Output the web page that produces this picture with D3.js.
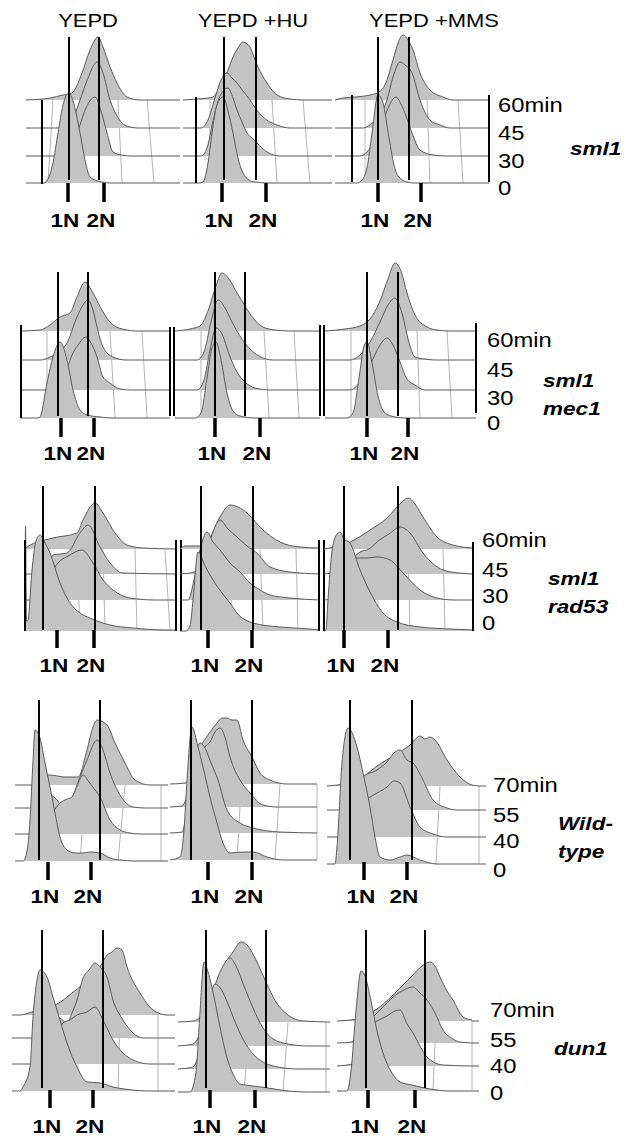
<!DOCTYPE html>
<html>
<head>
<meta charset="utf-8">
<script src="https://cdn.jsdelivr.net/npm/d3@7"></script>
<style>
  body { margin: 0; background: #fff; }
  text { font-family: Arial, "Liberation Sans", sans-serif; fill: #000; }
</style>
</head>
<body>
<svg id="fig" width="627" height="1143"></svg>
<script>
// Column and row labels.
const conditions = ["YEPD", "YEPD +HU", "YEPD +MMS"];
const strains = [["sml1"], ["sml1", "mec1"], ["sml1", "rad53"], ["Wild-", "type"], ["dun1"]];
const timesShort = ["0", "30", "45", "60min"];
const timesLong = ["0", "40", "55", "70min"];
const rowTimes = [timesShort, timesShort, timesShort, timesLong, timesLong];
const ploidyLabels = ["1N", "2N"];

// Histograms: [channel, cell count] pairs, front (time 0) to back (latest time).
const sml1_YEPD = [
    [[0,0],[18,0],[22,4],[27,20],[32,50],[37,78],[43,90],[47,82],[54,50],[59,23],[64,6],[72,2],[85,0],[154,0]],
    [[0,0],[40,0],[46,5],[53,28],[60,48],[69,59],[75,45],[81,23],[87,4],[95,1],[105,0],[154,0]],
    [[0,0],[30,0],[42,4],[48,12],[54,28],[62,50],[71,66],[77,55],[84,28],[90,14],[96,5],[104,1],[112,0],[154,0]],
    [[0,0],[24,2],[37,5],[46,7],[56,27],[64,50],[72,63],[77,53],[84,33],[91,17],[101,3],[114,0],[154,0]]
];
const sml1_HU = [
    [[0,0],[16,0],[20,1],[25,20],[29,50],[34,78],[40,86],[45,72],[50,50],[55,25],[60,10],[66,3],[72,1],[85,0],[149,0]],
    [[0,0],[18,0],[24,8],[30,35],[37,60],[45,68],[50,58],[54,46],[59,34],[64,23],[69,18],[74,13],[84,4],[97,0],[149,0]],
    [[0,0],[18,0],[25,8],[32,30],[38,48],[44,55],[49,50],[54,45],[60,37],[67,28],[73,19],[80,11],[87,6],[94,3],[107,0],[149,0]],
    [[0,0],[15,1],[25,2],[30,3],[35,9],[40,18],[45,30],[50,43],[55,52],[60,58],[64,56],[67,53],[71,43],[75,33],[84,17],[94,5],[107,1],[120,0],[149,0]]
];
const sml1_MMS = [
    [[0,0],[22,0],[27,3],[32,15],[37,50],[43,88],[48,80],[54,45],[60,14],[66,4],[72,1],[80,0],[154,0]],
    [[0,0],[25,0],[32,4],[38,12],[44,25],[50,40],[56,54],[61,59],[66,52],[71,40],[77,23],[85,6],[98,1],[110,0],[154,0]],
    [[0,0],[28,0],[36,4],[44,12],[52,28],[58,51],[65,66],[70,63],[77,55],[85,28],[95,8],[105,3],[115,0],[154,0]],
    [[0,0],[8,2],[20,3],[35,5],[44,8],[50,15],[58,40],[63,57],[68,65],[73,60],[78,50],[85,27],[95,10],[108,3],[118,0],[154,0]]
];
const mec1_YEPD = [
    [[0,0],[17,0],[19,1],[26,35],[32,61],[39,76],[46,58],[52,28],[59,8],[66,3],[79,1],[90,0],[149,0]],
    [[0,0],[35,0],[42,5],[49,30],[57,45],[65,53],[70,47],[76,33],[82,13],[89,7],[99,1],[110,0],[149,0]],
    [[0,0],[20,0],[29,3],[38,8],[46,17],[56,43],[62,55],[67,60],[72,50],[76,33],[82,13],[92,3],[105,0],[149,0]],
    [[0,0],[19,1],[29,6],[39,14],[49,18],[56,34],[64,49],[72,38],[82,19],[92,6],[106,1],[115,0],[149,0]]
];
const mec1_HU = [
    [[0,0],[20,0],[26,5],[32,40],[37,70],[41,76],[46,58],[52,25],[58,7],[65,2],[80,0],[145,0]],
    [[0,0],[22,0],[29,10],[35,40],[41,62],[47,56],[54,36],[62,18],[70,8],[80,2],[95,0],[145,0]],
    [[0,0],[22,0],[29,8],[36,38],[43,60],[50,52],[57,38],[65,24],[74,12],[84,4],[98,0],[145,0]],
    [[0,0],[15,2],[25,5],[33,20],[40,42],[47,58],[54,52],[62,38],[70,25],[78,13],[88,4],[100,1],[115,0],[145,0]]
];
const mec1_MMS = [
    [[0,0],[22,0],[28,5],[34,40],[39,72],[42,76],[47,55],[53,22],[59,6],[66,2],[80,0],[151,0]],
    [[0,0],[25,0],[35,8],[45,25],[55,45],[62,52],[68,45],[75,28],[82,11],[90,5],[100,0],[151,0]],
    [[0,0],[25,0],[35,5],[45,18],[55,38],[63,55],[70,62],[76,50],[85,14],[90,3],[100,1],[110,0],[151,0]],
    [[0,0],[20,2],[35,5],[45,12],[55,30],[63,52],[70,68],[76,60],[82,38],[90,16],[102,4],[112,1],[125,0],[151,0]]
];
const rad53_YEPD = [
    [[0,0],[0.5,105],[1.5,10],[3,11],[7,61],[11,90],[15,96],[20,88],[25,78],[35,48],[45,28],[55,18],[65,13],[85,6],[108,3],[142,1],[151,1]],
    [[0,0],[20,0],[25,15],[30,33],[45,45],[57,50],[68,37],[78,20],[88,10],[105,2],[130,0],[151,0]],
    [[0,0],[20,0],[28,19],[42,21],[55,41],[63,49],[75,27],[85,11],[98,1],[151,0]],
    [[0,0],[2,2],[28,11],[52,16],[58,29],[70,46],[78,36],[90,16],[102,4],[118,1],[151,0]]
];
const rad53_HU = [
    [[0,0],[6,0],[10,5],[13,31],[18,79],[25,65],[33,51],[42,38],[50,28],[57,18],[73,8],[100,4],[130,2],[139,1]],
    [[0,0],[8,0],[14,20],[20,50],[27,68],[33,58],[40,50],[50,37],[60,28],[70,17],[80,10],[90,5],[110,2],[139,0]],
    [[0,0],[15,2],[22,12],[30,34],[40,54],[48,45],[57,37],[67,28],[77,21],[90,7],[110,2],[139,0]],
    [[0,0],[5,3],[25,3],[30,11],[40,32],[50,44],[58,42],[67,36],[83,19],[100,7],[120,2],[139,1]]
];
const rad53_MMS = [
    [[0,0],[2,1],[4,31],[8,80],[13,97],[16,99],[20,92],[26,88],[36,61],[46,39],[59,18],[73,9],[96,4],[126,2],[149,1]],
    [[0,0],[10,2],[20,25],[33,42],[43,42],[53,43],[66,40],[79,27],[96,10],[113,2],[130,0],[149,0]],
    [[0,0],[15,3],[25,12],[36,22],[45,25],[53,32],[65,40],[76,47],[86,41],[99,21],[119,4],[135,1],[149,0]],
    [[0,0],[10,2],[26,7],[46,19],[63,31],[76,45],[84,51],[91,45],[99,32],[113,12],[129,4],[149,1]]
];
const wt_YEPD = [
    [[0,0],[8,0],[12,10],[15,41],[18,100],[20,131],[25,123],[30,98],[35,74],[40,48],[45,24],[52,11],[60,8],[68,8],[75,9],[85,8],[95,3],[105,1],[120,0],[153,0]],
    [[0,0],[22,0],[30,10],[38,22],[45,31],[52,35],[57,37],[62,48],[68,59],[74,52],[80,44],[85,37],[95,14],[105,4],[115,1],[125,0],[153,0]],
    [[0,0],[22,0],[28,8],[35,13],[42,8],[48,1],[53,4],[57,10],[65,31],[72,48],[82,68],[88,58],[95,35],[105,13],[118,1],[130,0],[153,0]],
    [[0,0],[20,0],[28,8],[35,10],[50,8],[63,8],[72,35],[78,58],[82,65],[92,60],[100,42],[110,22],[120,5],[135,0],[153,0]]
];
const wt_HU = [
    [[0,0],[10,3],[14,30],[17,80],[22,133],[28,113],[33,93],[40,63],[47,37],[53,17],[60,7],[73,8],[83,8],[97,3],[113,0],[147,0]],
    [[0,0],[12,1],[18,30],[24,70],[30,90],[35,85],[41,70],[48,53],[57,23],[70,10],[83,5],[110,1],[147,0]],
    [[0,0],[12,1],[20,20],[28,45],[35,60],[40,65],[45,75],[50,79],[55,70],[60,50],[70,27],[80,14],[93,2],[107,0],[147,0]],
    [[0,0],[15,1],[22,10],[30,35],[40,52],[47,61],[52,66],[57,66],[62,64],[67,64],[73,44],[82,27],[90,11],[100,4],[117,0],[147,0]]
];
const wt_MMS = [
    [[0,0],[8,0],[10,17],[15,101],[21,136],[30,117],[36,91],[43,57],[48,27],[53,7],[63,4],[73,7],[80,9],[93,4],[110,0],[152,0]],
    [[0,0],[15,0],[22,15],[30,30],[40,38],[50,44],[60,50],[67,56],[73,54],[83,30],[93,10],[106,3],[120,0],[152,0]],
    [[0,0],[15,0],[22,15],[30,25],[36,33],[50,40],[60,48],[68,58],[73,60],[80,50],[86,47],[96,30],[106,10],[120,2],[130,0],[152,0]],
    [[0,0],[30,5],[36,9],[50,20],[68,31],[83,41],[93,50],[98,47],[103,49],[108,46],[120,26],[133,9],[145,1],[152,0]]
];
const dun1_YEPD = [
    [[0,0],[8,0],[11,4],[18,24],[21,74],[25,111],[28,121],[35,114],[41,94],[48,71],[55,48],[65,24],[75,9],[88,8],[101,4],[121,1],[135,0],[163,0]],
    [[0,0],[25,0],[35,25],[42,35],[48,37],[51,41],[58,44],[65,49],[75,52],[83,57],[91,44],[101,24],[111,11],[121,4],[138,0],[163,0]],
    [[0,0],[25,0],[35,15],[42,22],[48,20],[55,15],[60,25],[65,38],[71,60],[77,68],[83,75],[89,70],[95,61],[101,38],[111,18],[121,5],[131,0],[163,0]],
    [[0,0],[8,0],[20,3],[35,8],[45,11],[60,22],[70,30],[78,38],[88,48],[95,60],[100,63],[105,67],[110,65],[115,48],[128,22],[141,5],[155,0],[163,0]]
];
const dun1_HU = [
    [[0,0],[12,0],[18,20],[22,80],[26,130],[30,120],[36,95],[42,65],[48,38],[55,18],[62,8],[75,6],[90,4],[110,1],[130,0],[152,0]],
    [[0,0],[15,2],[22,20],[30,60],[37,85],[43,80],[50,65],[58,45],[66,28],[75,15],[85,7],[100,2],[120,0],[152,0]],
    [[0,0],[15,2],[25,20],[35,55],[45,80],[52,88],[58,80],[66,60],[75,38],[85,18],[95,7],[110,2],[130,0],[152,0]],
    [[0,0],[15,1],[25,8],[35,30],[45,55],[55,70],[63,80],[70,76],[78,62],[88,40],[98,20],[110,7],[125,1],[152,0]]
];
const dun1_MMS = [
    [[0,0],[10,0],[14,20],[19,80],[24,120],[28,115],[34,90],[40,60],[47,35],[55,18],[63,9],[75,6],[83,4],[100,1],[110,0],[135,0]],
    [[0,0],[15,2],[22,20],[30,38],[40,45],[50,50],[58,55],[63,56],[70,42],[76,33],[83,20],[90,9],[106,1],[135,0]],
    [[0,0],[15,1],[25,12],[35,25],[45,35],[55,45],[65,52],[76,56],[83,50],[90,43],[98,30],[106,13],[116,4],[123,1],[135,0]],
    [[0,0],[20,2],[30,6],[40,12],[55,25],[65,35],[75,45],[85,55],[93,59],[98,55],[103,44],[110,30],[116,21],[126,4],[135,1]]
];
const histograms = [
    [sml1_YEPD, sml1_HU, sml1_MMS],
    [mec1_YEPD, mec1_HU, mec1_MMS],
    [rad53_YEPD, rad53_HU, rad53_MMS],
    [wt_YEPD, wt_HU, wt_MMS],
    [dun1_YEPD, dun1_HU, dun1_MMS]
];

// 1N / 2N gate channels (vertical lines) and axis tick channels, per panel.
const gateChannels = [
    [[43,73],[41,73],[43,74]],
    [[37,67],[40,70],[42,73]],
    [[18,70],[21,73],[20,74]],
    [[24,85],[21,82],[23,85]],
    [[30,91],[28,88],[29,88]]
];
const tickChannels = [
    [[42,78],[39,83],[43,86]],
    [[40,73],[40,85],[42,83]],
    [[32,69],[28,72],[20,64]],
    [[33,76],[38,82],[37,80]],
    [[38,81],[32,77],[31,78]]
];

// ---- layout (pixels) ----
const panelLeft = [[26,183,335],[21,175,325],[25,180,324],[15,170,327],[12,178,337]];
const panelWidth = [[154,149,154],[149,145,151],[151,139,149],[153,147,152],[163,152,135]];
const panelBase = [
    [[183,156,128,100],[183,156,128,100],[183,156,128,100]],
    [[418,390,360,331],[418,390,360,331],[418,390,360,331]],
    [[631,600,574,549],[631,600,574,549],[631,600,574,549]],
    [[861,834,808,785],[860,833,807,784],[864,837,810,786]],
    [[1091,1064,1038,1015],[1092,1069,1046,1022],[1091,1066,1043,1021]]
];
const gateY = [[37,180],[272,416],[486,630],[700,860],[930,1088]];
const tickY = [[183,202],[418,437],[630,648],[862,880],[1090,1108]];
const tickLabelY = [227,460,672,903,1133];
const timeX = [498,487,482,493,490];
const timeY = [[195,168,140,112],[430,405,377,347],[630,603,577,547],[877,848,822,792],[1100,1073,1047,1017]];
const strainPos = [[570,155],[543,387],[548,585],[558,830],[554,1055]];
// black frame verticals: channel, y from, y to
const frames = [
    [[[16,100,184]],[[13,97,183]],[[17,95,182],[154,95,182]]],
    [[[0,325,418],[149,327,416],[153,327,416]],[[145,325,416],[149,325,416]],[[151,323,413]]],
    [[[0,540,631],[151,540,631],[156,540,631]],[[139,540,631],[144,540,631]],[[149,542,631]]],
    [[],[],[]],
    [[],[],[]]
];
// light grid verticals: channel at lower level, channel at upper level, lower level, upper level
const grids = [
    [[[22,27,0,3],[96,92,0,3],[128,121,0,3]],[[27,27,0,3],[94,89,0,3],[127,120,0,3]],[[30,30,0,3],[95,92,0,3],[128,123,0,3]]],
    [[[26,26,0,3],[94,89,0,3],[126,121,0,3]],[[26,26,0,3],[94,89,0,3],[124,119,0,3]],[[26,26,0,3],[95,92,0,3],[127,122,0,3]]],
    [[[55,52,0,3],[80,78,0,3],[112,110,0,3],[145,140,0,3]],[[52,50,0,3],[83,80,0,3],[118,116,0,3]],[[55,52,0,3],[86,84,0,3],[121,119,0,3]]],
    [[[65,67,0,1],[103,110,0,3],[146,146,0,3]],[[67,70,0,2],[105,110,0,3],[147,147,0,3]],[[109,113,0,3],[152,152,0,3]]],
    [[[66,66,0,1],[106,108,0,3],[146,146,0,3]],[[66,68,0,1],[105,110,0,3],[148,148,0,3]],[[96,98,0,2],[135,135,0,3]]]
];
const titleX = [88,253,434];
const titleY = 27;
const stretch = 1.22;

const svg = d3.select("#fig");

// Horizontally stretched text, as in the original figure.
const addText = (x, y, str, anchor, size, weight, style) => svg.append("text")
    .attr("transform", `translate(${x},${y}) scale(${stretch},1)`)
    .attr("text-anchor", anchor)
    .style("font-size", size + "px")
    .style("font-weight", weight || "normal")
    .style("font-style", style || "normal")
    .text(str);

conditions.forEach((c, j) => addText(titleX[j], titleY, c, "middle", 18));

histograms.forEach((row, r) => {
    row.forEach((panel, c) => {
        const left = panelLeft[r][c];
        const w = panelWidth[r][c];
        const base = panelBase[r][c];
        const x = d3.scaleLinear().domain([0, w]).range([left, left + w]);
        const levelY = base.map(b => d3.scaleLinear().domain([0, 100]).range([b, b - 100]));
        const g = svg.append("g");

        // grid lines behind the histograms
        grids[r][c].forEach(([xb, xt, l0, l1]) => {
            g.append("line")
                .attr("x1", x(xb)).attr("y1", base[l0])
                .attr("x2", x(xt)).attr("y2", base[l1])
                .attr("stroke", "#b4b4b4").attr("stroke-width", 1);
        });

        // histograms from back to front
        for (let k = panel.length - 1; k >= 0; k--) {
            const yk = levelY[k];
            const area = d3.area()
                .x(d => x(d[0])).y0(yk(0)).y1(d => yk(d[1]))
                .curve(d3.curveMonotoneX);
            const line = d3.line()
                .x(d => x(d[0])).y(d => yk(d[1]))
                .curve(d3.curveMonotoneX);
            g.append("path").attr("d", area(panel[k]))
                .attr("fill", "#c3c3c3").attr("stroke", "none");
            g.append("path").attr("d", line(panel[k]))
                .attr("fill", "none").attr("stroke", "#5a5a5a").attr("stroke-width", 1);
        }

        // baseline stubs reaching the time labels
        if (c === 2 && r >= 3) {
            base.forEach(b => g.append("line")
                .attr("x1", x(w)).attr("x2", x(w) + 7)
                .attr("y1", b).attr("y2", b)
                .attr("stroke", "#5a5a5a").attr("stroke-width", 1));
        }

        // black frame edges
        frames[r][c].forEach(([ch, y0, y1]) => {
            g.append("line")
                .attr("x1", x(ch)).attr("x2", x(ch))
                .attr("y1", y0).attr("y2", y1)
                .attr("stroke", "#000").attr("stroke-width", 2);
        });

        // 1N / 2N gates
        gateChannels[r][c].forEach(ch => {
            g.append("line")
                .attr("x1", x(ch)).attr("x2", x(ch))
                .attr("y1", gateY[r][0]).attr("y2", gateY[r][1])
                .attr("stroke", "#000").attr("stroke-width", 2);
        });

        // ticks and labels
        tickChannels[r][c].forEach((ch, i) => {
            g.append("line")
                .attr("x1", x(ch)).attr("x2", x(ch))
                .attr("y1", tickY[r][0]).attr("y2", tickY[r][1])
                .attr("stroke", "#000").attr("stroke-width", 3.5);
            addText(x(ch) - 3, tickLabelY[r], ploidyLabels[i], "middle", 18.5, "bold");
        });
    });

    // time labels to the right of the last column
    rowTimes[r].forEach((t, k) => addText(timeX[r], timeY[r][k], t, "start", 19.5));

    // strain name
    strains[r].forEach((s, i) => addText(strainPos[r][0], strainPos[r][1] + i * 28, s, "start", 18.5, "bold", "italic"));
});
</script>
</body>
</html>
